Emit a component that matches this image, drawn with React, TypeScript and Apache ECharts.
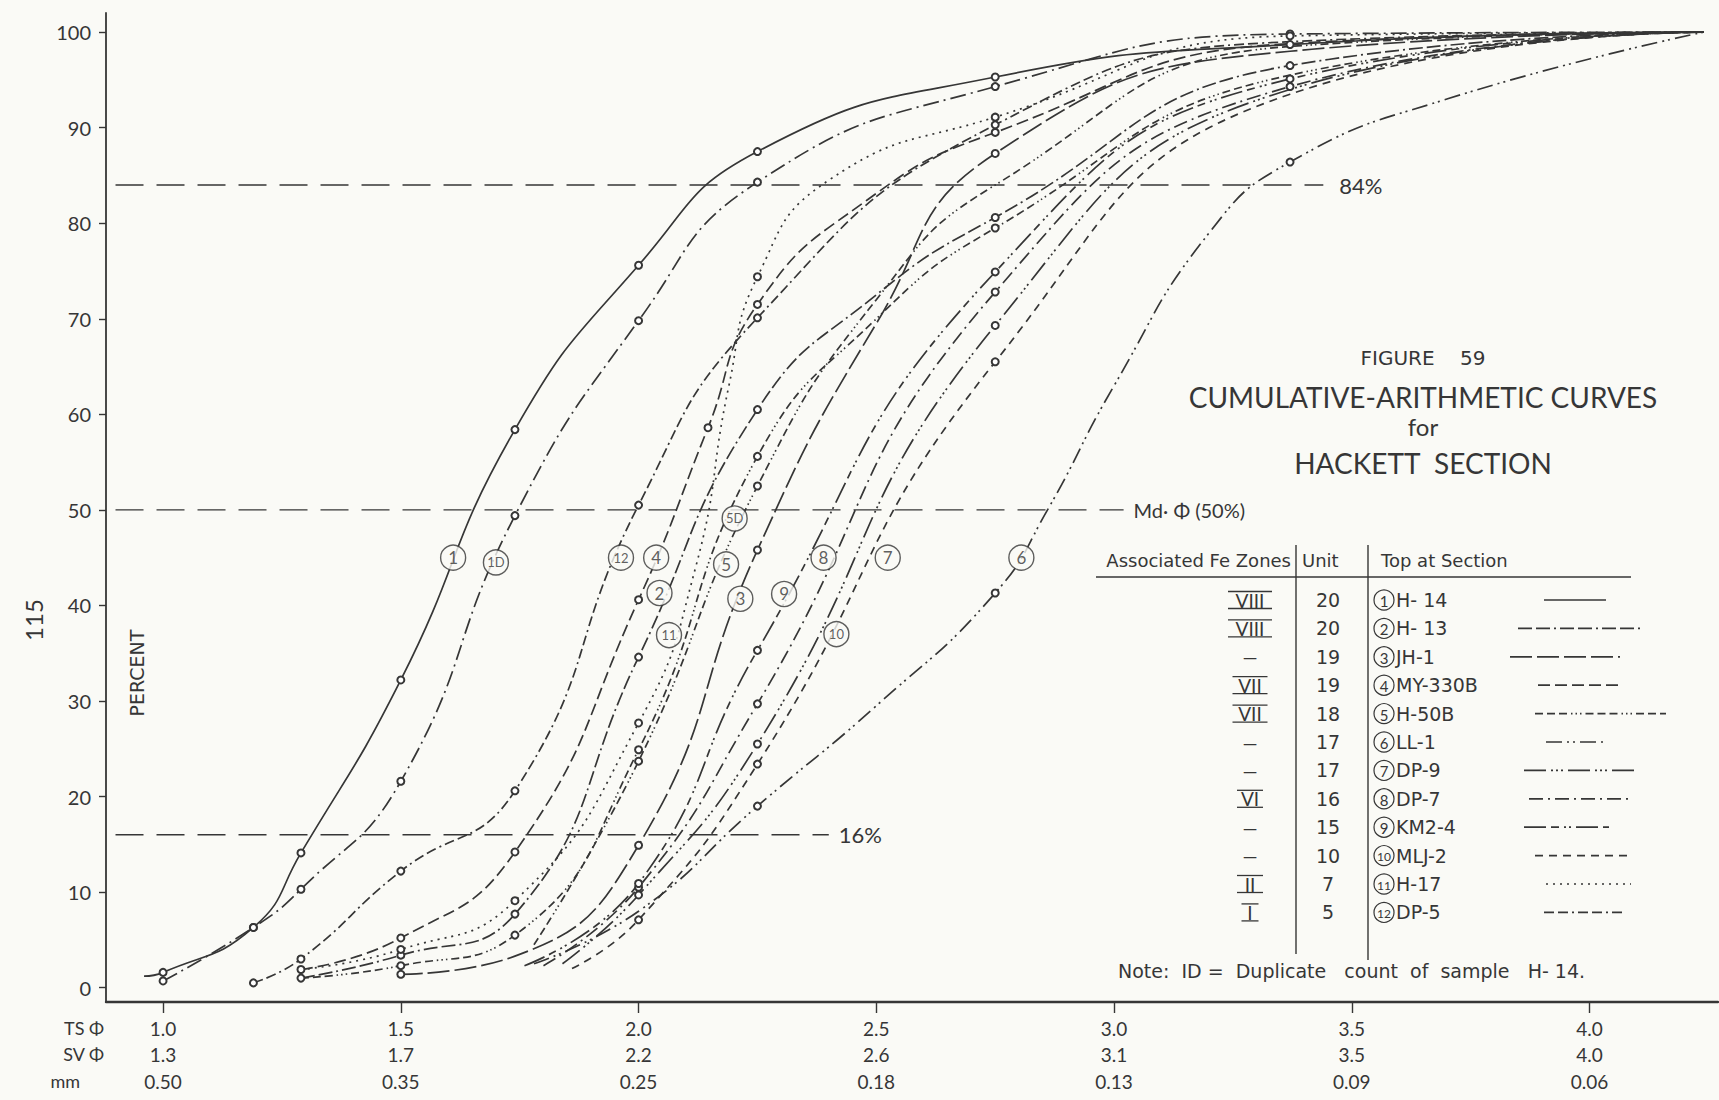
import React, { useEffect, useRef } from "react";
import * as echarts from "echarts";

// ---------- axis ticks / labels ----------
const TS_PHI = [1.0, 1.5, 2.0, 2.5, 3.0, 3.5, 4.0];
const TS_LABELS = ["1.0", "1.5", "2.0", "2.5", "3.0", "3.5", "4.0"];
const SV_LABELS = ["1.3", "1.7", "2.2", "2.6", "3.1", "3.5", "4.0"];
const MM_LABELS = ["0.50", "0.35", "0.25", "0.18", "0.13", "0.09", "0.06"];
const Y_TICKS = [0, 10, 20, 30, 40, 50, 60, 70, 80, 90, 100];

// ---------- curves: [TS phi, cumulative percent, measured point (1) or not (0)] ----------
const H14 = [[0.96, 1.2, 0], [1.0, 1.6, 1], [1.19, 6.3, 1], [1.29, 14.1, 1], [1.5, 32.2, 1], [1.74, 58.4, 1], [2.0, 75.6, 1], [2.25, 87.5, 1], [2.75, 95.3, 1], [3.37, 98.7, 1], [4.24, 100, 0]];
const H14D = [[1.0, 0.7, 1], [1.19, 6.3, 1], [1.29, 10.3, 1], [1.5, 21.6, 1], [1.74, 49.4, 1], [2.0, 69.8, 1], [2.25, 84.3, 1], [2.75, 94.3, 1], [3.37, 99.8, 1], [4.24, 100, 0]];
const H13 = [[1.29, 1.0, 1], [1.5, 3.4, 1], [1.74, 7.7, 1], [2.0, 34.6, 1], [2.25, 60.5, 1], [2.5, 72.5, 0], [2.75, 80.6, 1], [3.37, 96.5, 1], [4.24, 100, 0]];
const JH1 = [[1.5, 1.4, 1], [1.74, 3.3, 0], [2.0, 14.9, 1], [2.25, 45.8, 1], [2.5, 69.5, 0], [2.75, 87.3, 1], [3.37, 98.0, 0], [4.24, 100, 0]];
const MY330B = [[1.29, 1.9, 1], [1.5, 5.2, 1], [1.74, 14.2, 1], [2.0, 40.6, 1], [2.146, 58.6, 1], [2.25, 71.5, 1], [2.48, 82.4, 0], [2.75, 89.5, 1], [3.37, 98.8, 0], [4.24, 100, 0]];
const H50B = [[1.29, 1.0, 0], [1.5, 2.3, 1], [1.74, 5.5, 1], [2.0, 24.9, 1], [2.25, 55.6, 1], [2.5, 70.0, 0], [2.75, 79.5, 1], [3.37, 95.5, 0], [4.24, 100, 0]];
const H50BD = [[1.78, 4.5, 0], [2.0, 23.7, 1], [2.25, 52.5, 1], [2.5, 72.0, 0], [2.75, 84.0, 0], [3.37, 98.5, 0], [4.24, 100, 0]];
const LL1 = [[1.78, 2.5, 0], [2.0, 8.0, 0], [2.25, 19.0, 1], [2.5, 29.5, 0], [2.75, 41.3, 1], [2.86, 50.0, 0], [3.0, 63.0, 0], [3.2, 79.0, 0], [3.37, 86.4, 1], [3.7, 93.0, 0], [4.24, 100, 0]];
const DP9 = [[1.84, 2.5, 0], [2.0, 9.7, 1], [2.25, 25.5, 1], [2.75, 69.3, 1], [3.37, 94.0, 0], [4.24, 100, 0]];
const DP7 = [[1.80, 2.3, 0], [2.0, 10.5, 1], [2.25, 29.7, 1], [2.75, 72.8, 1], [3.37, 94.3, 1], [4.24, 100, 0]];
const KM24 = [[1.76, 2.3, 0], [2.0, 10.9, 1], [2.25, 35.3, 1], [2.75, 74.9, 1], [3.37, 95.1, 1], [4.24, 100, 0]];
const MLJ2 = [[1.86, 2.0, 0], [2.0, 7.1, 1], [2.25, 23.4, 1], [2.75, 65.5, 1], [3.37, 93.5, 0], [4.24, 100, 0]];
const H17 = [[1.29, 1.9, 0], [1.5, 4.0, 1], [1.74, 9.1, 1], [2.0, 27.7, 1], [2.12, 44.0, 0], [2.19, 63.0, 0], [2.25, 74.4, 1], [2.4, 84.5, 0], [2.75, 91.1, 1], [3.37, 99.6, 1], [4.24, 100, 0]];
const DP5 = [[1.19, 0.5, 1], [1.29, 3.0, 1], [1.5, 12.2, 1], [1.74, 20.6, 1], [2.0, 50.5, 1], [2.25, 70.1, 1], [2.75, 90.3, 1], [3.37, 99.0, 0], [4.24, 100, 0]];

// circled curve tags: [tag, phi, percent]
const CURVE_TAGS = [
  ["1", 1.61, 45], ["1D", 1.70, 44.5], ["12", 1.963, 45], ["4", 2.037, 45], ["2", 2.044, 41.3],
  ["11", 2.064, 36.9], ["5D", 2.202, 49.1], ["5", 2.184, 44.3], ["3", 2.214, 40.7], ["9", 2.306, 41.2],
  ["8", 2.389, 45], ["7", 2.524, 45], ["10", 2.416, 37], ["6", 2.805, 45],
];

// reference percent levels
const REF_LEVELS = [84, 50, 16];
const REF_START = 0.9;
const REF_ENDS = [3.44, 3.02, 2.4];
const REF_TEXTS = ["84%", "Md· Φ (50%)", "16%"];

// legend table
const ZONES = ["VIII", "VIII", "—", "VII", "VII", "—", "—", "VI", "—", "—", "II", "I"];
const UNITS = ["20", "20", "19", "19", "18", "17", "17", "16", "15", "10", "7", "5"];
const SAMPLE_NO = ["1", "2", "3", "4", "5", "6", "7", "8", "9", "10", "11", "12"];
const SAMPLES = ["H- 14", "H- 13", "JH-1", "MY-330B", "H-50B", "LL-1", "DP-9", "DP-7", "KM2-4", "MLJ-2", "H-17", "DP-5"];

// ---------- styles ----------
const INK = "#363636";
const BG = "#fafaf6";
const FONT = "Lato, 'DejaVu Sans', sans-serif";
const WIDE = "'DejaVu Sans', Lato, sans-serif";

const DASH: Record<string, any> = {
  solid: "solid",
  dashDot: [16, 5, 2, 5],
  h13: [14, 4, 14, 4, 2, 4],
  longDash: [22, 5],
  medDash: [12, 5],
  h50b: [8, 4, 8, 4, 8, 4, 1.5, 3, 1.5, 3, 1.5, 4],
  dashDotDot: [16, 5, 2, 4, 2, 5],
  dp9: [22, 5, 2, 3, 2, 3, 2, 5],
  dp7: [14, 5, 2, 5],
  km24: [22, 5, 8, 5, 2, 3, 2, 5],
  shortDash: [8, 6],
  dotted: [2, 5],
  dp5: [10, 4, 10, 4, 2, 4],
};

const CURVES = [
  { name: "H-14", data: H14, dash: DASH.solid },
  { name: "H-14 duplicate", data: H14D, dash: DASH.dashDot },
  { name: "H-13", data: H13, dash: DASH.h13 },
  { name: "JH-1", data: JH1, dash: DASH.longDash },
  { name: "MY-330B", data: MY330B, dash: DASH.medDash },
  { name: "H-50B", data: H50B, dash: DASH.h50b },
  { name: "H-50B duplicate", data: H50BD, dash: DASH.h50b },
  { name: "LL-1", data: LL1, dash: DASH.dashDotDot },
  { name: "DP-9", data: DP9, dash: DASH.dp9 },
  { name: "DP-7", data: DP7, dash: DASH.dp7 },
  { name: "KM2-4", data: KM24, dash: DASH.km24 },
  { name: "MLJ-2", data: MLJ2, dash: DASH.shortDash },
  { name: "H-17", data: H17, dash: DASH.dotted },
  { name: "DP-5", data: DP5, dash: DASH.dp5 },
];

const LEGEND_DASH = [DASH.solid, DASH.h13, DASH.longDash, DASH.medDash, DASH.h50b, DASH.dashDotDot, DASH.dp9, DASH.dp7, DASH.km24, DASH.shortDash, DASH.dotted, DASH.dp5];
const LEGEND_SPAN = [[1544, 1606], [1518, 1644], [1510, 1620], [1538, 1620], [1535, 1666], [1546, 1606], [1524, 1639], [1529, 1633], [1524, 1609], [1535, 1631], [1546, 1631], [1544, 1625]];

function txt(text: string, x: number, y: number, size: number, align = "left", extra: any = {}, family = FONT) {
  return {
    type: "text",
    x,
    y,
    silent: true,
    ...extra,
    style: { text, fill: INK, font: `${size}px ${family}`, align, verticalAlign: "middle" },
  };
}

function ln(x1: number, y1: number, x2: number, y2: number, w = 1.4, dash: any = null) {
  return {
    type: "line",
    silent: true,
    shape: { x1, y1, x2, y2 },
    style: { stroke: INK, lineWidth: w, lineDash: dash === "solid" ? null : dash },
  };
}

function buildGraphic() {
  const g: any[] = [];
  // titles
  g.push(txt("FIGURE    59", 1423, 358, 20, "center", {}, WIDE));
  g.push(txt("CUMULATIVE-ARITHMETIC CURVES", 1423, 397, 28, "center"));
  g.push(txt("for", 1423, 426, 24, "center"));
  g.push(txt("HACKETT  SECTION", 1423, 463, 28, "center"));
  // side texts
  g.push(txt("PERCENT", 137, 673, 19, "center", { rotation: Math.PI / 2 }, WIDE));
  g.push(txt("115", 33, 620, 24, "center", { rotation: Math.PI / 2 }));
  // x label row prefixes
  g.push(txt("TS Φ", 104, 1028, 18, "right"));
  g.push(txt("SV Φ", 104, 1054, 18, "right"));
  g.push(txt("mm", 80, 1081, 18, "right"));
  // table header
  g.push(txt("Associated Fe Zones", 1291, 560, 18, "right", {}, WIDE));
  g.push(txt("Unit", 1302, 560, 18, "left", {}, WIDE));
  g.push(txt("Top at Section", 1381, 560, 18, "left", {}, WIDE));
  g.push(ln(1096, 577, 1631, 577, 1.5));
  g.push(ln(1296, 545, 1296, 954, 1.4));
  g.push(ln(1368, 545, 1368, 960, 1.4));
  for (let i = 0; i < ZONES.length; i++) {
    const y = 600 + i * 28.4;
    const z = ZONES[i];
    g.push(txt(z, 1250, y, 19, "center"));
    if (z !== "—") {
      const w = z.length * 9 + 8;
      g.push(ln(1250 - w / 2, y - 8.5, 1250 + w / 2, y - 8.5, 1.3));
      g.push(ln(1250 - w / 2, y + 8.5, 1250 + w / 2, y + 8.5, 1.3));
    }
    g.push(txt(UNITS[i], 1328, y, 19, "center", {}, WIDE));
    g.push({
      type: "circle",
      silent: true,
      shape: { cx: 1384, cy: y, r: 10 },
      style: { fill: "none", stroke: INK, lineWidth: 1.2 },
    });
    g.push(txt(SAMPLE_NO[i], 1384, y + 1, SAMPLE_NO[i].length > 1 ? 12 : 15, "center"));
    g.push(txt(SAMPLES[i], 1396, y, 19, "left", {}, WIDE));
    const [a, b] = LEGEND_SPAN[i];
    g.push(ln(a, y, b, y, 1.7, LEGEND_DASH[i]));
  }
  g.push(txt("Note:  ID =  Duplicate   count  of  sample   H- 14.", 1118, 971, 19, "left", {}, WIDE));
  return g;
}

function buildOption() {
  const curveSeries = CURVES.map((c) => ({
    type: "line",
    name: c.name,
    data: c.data.map((p) => ({ value: [p[0], p[1]], symbol: p[2] ? "emptyCircle" : "none" })),
    smooth: 0.5,
    symbol: "emptyCircle",
    symbolSize: 7,
    showSymbol: true,
    showAllSymbol: true,
    silent: true,
    z: 3,
    lineStyle: { color: INK, width: 1.7, type: c.dash },
    itemStyle: { color: INK, borderColor: INK, borderWidth: 1.2 },
  }));

  const refSeries = REF_LEVELS.map((lvl, i) => ({
    type: "line",
    name: REF_TEXTS[i],
    data: [[REF_START, lvl], [REF_ENDS[i], lvl]],
    symbol: "none",
    silent: true,
    z: 2,
    lineStyle: { color: INK, width: 1.4, type: [28, 13] },
    endLabel: {
      show: true,
      formatter: REF_TEXTS[i],
      distance: i === 0 ? 16 : 10,
      color: INK,
      fontSize: i === 1 ? 20 : 22,
      fontFamily: FONT,
    },
  }));

  const tagSeries = {
    type: "scatter",
    silent: true,
    z: 5,
    symbol: "circle",
    symbolSize: 25,
    itemStyle: { color: BG, borderColor: INK, borderWidth: 1.4 },
    data: CURVE_TAGS.map((t) => ({
      value: [t[1], t[2]],
      name: t[0],
      label: { fontSize: String(t[0]).length > 1 ? 13 : 17 },
    })),
    label: { show: true, position: "inside", formatter: "{b}", color: INK, fontFamily: FONT },
  };

  return {
    animation: false,
    backgroundColor: BG,
    textStyle: { fontFamily: FONT },
    grid: { left: 106, right: 1, top: 13, bottom: 98, containLabel: false },
    xAxis: {
      type: "value",
      min: 0.88,
      max: 4.27,
      splitLine: { show: false },
      axisLine: { show: true, onZero: false, lineStyle: { color: INK, width: 2.4 } },
      axisTick: { show: true, customValues: TS_PHI, length: 11, lineStyle: { color: INK, width: 1.4 } },
      axisLabel: {
        customValues: TS_PHI,
        margin: 13,
        color: INK,
        fontSize: 19,
        lineHeight: 26.5,
        fontFamily: FONT,
        formatter: (v: number) => {
          const i = TS_PHI.findIndex((t) => Math.abs(t - v) < 1e-6);
          return i < 0 ? "" : `${TS_LABELS[i]}\n${SV_LABELS[i]}\n${MM_LABELS[i]}`;
        },
      },
    },
    yAxis: {
      type: "value",
      min: -1.5,
      max: 102,
      splitLine: { show: false },
      axisLine: { show: true, onZero: false, lineStyle: { color: INK, width: 1.8 } },
      axisTick: { show: true, customValues: Y_TICKS, length: 7, lineStyle: { color: INK, width: 1.4 } },
      axisLabel: { customValues: Y_TICKS, margin: 15, color: INK, fontSize: 20, fontFamily: FONT },
    },
    series: [...refSeries, ...curveSeries, tagSeries],
    graphic: buildGraphic(),
  };
}

export default function App() {
  const ref = useRef<HTMLDivElement>(null);
  useEffect(() => {
    document.body.style.margin = "0";
    const chart = echarts.init(ref.current as HTMLDivElement, null, { renderer: "svg" });
    chart.setOption(buildOption() as any);
    return () => chart.dispose();
  }, []);
  return <div ref={ref} style={{ width: 1719, height: 1100 }} />;
}
